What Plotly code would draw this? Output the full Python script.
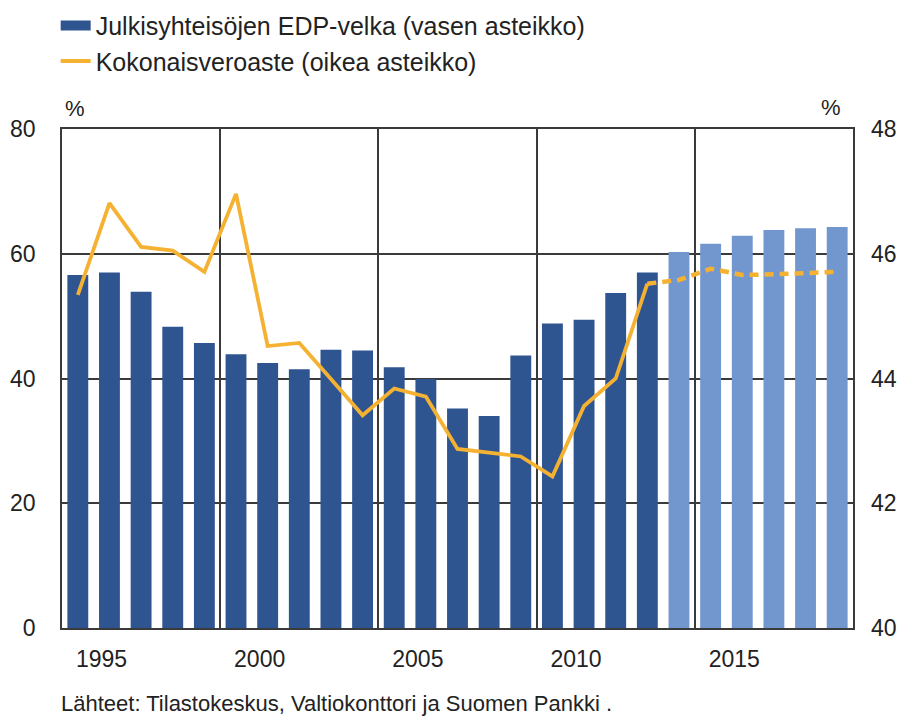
import plotly.graph_objects as go

years = list(range(1994, 2019))
debt = [56.6, 57.0, 53.9, 48.3, 45.7, 43.9, 42.5, 41.5, 44.6, 44.5, 41.8, 39.9, 35.2,
        34.0, 43.7, 48.8, 49.4, 53.7, 57.0, 60.3, 61.6, 62.9, 63.8, 64.1, 64.3]
forecast_start = 2013

tax_years = list(range(1994, 2013))
tax = [45.34, 46.81, 46.11, 46.05, 45.71, 46.96, 44.52, 44.57, 43.99, 43.41, 43.84,
       43.71, 42.87, 42.81, 42.75, 42.43, 43.56, 44.00, 45.52]
tax_fc_years = list(range(2012, 2019))
tax_fc = [45.52, 45.58, 45.76, 45.66, 45.67, 45.69, 45.71]

x_ticks = [1995, 2000, 2005, 2010, 2015]
left_ticks = [0, 20, 40, 60, 80]
right_ticks = [40, 42, 44, 46, 48]

DARK = "#2f5591"
LIGHT = "#7297cf"
ORANGE = "#f5b232"
FONT = "Liberation Sans, Arial, sans-serif"
TXT = "#222222"
GRID = "#3a3a3a"

bar_colors = [DARK if y < forecast_start else LIGHT for y in years]

fig = go.Figure()
fig.add_trace(go.Bar(
    x=years, y=debt, name="Julkisyhteisöjen EDP-velka (vasen asteikko)",
    marker=dict(color=bar_colors, line=dict(width=0)), width=0.66,
    yaxis="y", showlegend=False))
# legend swatch for the bars (wide rectangle as in the original)
fig.add_trace(go.Scatter(
    x=[None], y=[None], name="Julkisyhteisöjen EDP-velka (vasen asteikko)",
    mode="lines", line=dict(color=DARK, width=13), yaxis="y"))
fig.add_trace(go.Scatter(
    x=tax_years, y=tax, name="Kokonaisveroaste (oikea asteikko)", mode="lines",
    line=dict(color=ORANGE, width=3.8), yaxis="y2"))
fig.add_trace(go.Scatter(
    x=tax_fc_years, y=tax_fc, showlegend=False, mode="lines",
    line=dict(color=ORANGE, width=4.5, dash="9px,6px"), yaxis="y2"))

fig.update_layout(
    width=898, height=710,
    margin=dict(l=54, r=53, t=121, b=90, autoexpand=False),
    paper_bgcolor="white", plot_bgcolor="white",
    font=dict(family=FONT, size=23, color=TXT),
    showlegend=True,
    legend=dict(x=-0.008, y=1.253, xanchor="left", yanchor="top",
                font=dict(size=25, color=TXT),
                tracegroupgap=0, itemwidth=30, bgcolor="rgba(0,0,0,0)"),
    xaxis=dict(range=[1993.5, 2018.5], tickvals=x_ticks, ticktext=[str(v) for v in x_ticks],
               showgrid=False, zeroline=False, showline=True, mirror=True,
               linecolor=GRID, linewidth=1.5, ticks="", ticklabelstandoff=10,
               ticklabelshift=-8, tickangle=0,
               minor=dict(tickvals=[1998.5, 2003.5, 2008.5, 2013.5], showgrid=True,
                          gridcolor=GRID, gridwidth=1.5)),
    yaxis=dict(range=[0, 80], tickvals=left_ticks, showgrid=True, gridcolor=GRID,
               gridwidth=1.5, zeroline=False, showline=True, mirror=True,
               linecolor=GRID, linewidth=1.5, ticks="", ticklabelstandoff=20),
    yaxis2=dict(range=[40, 48], tickvals=right_ticks, overlaying="y", side="right",
                showgrid=False, zeroline=False, showline=False, ticks="",
                ticklabelstandoff=17),
    bargap=0.34,
)

fig.add_annotation(text="%", xref="paper", yref="paper", x=0.017, y=1.0,
                   xanchor="center", yanchor="bottom", yshift=6, showarrow=False,
                   font=dict(size=22, color=TXT))
fig.add_annotation(text="%", xref="paper", yref="paper", x=0.972, y=1.0,
                   xanchor="center", yanchor="bottom", yshift=7, showarrow=False,
                   font=dict(size=22, color=TXT))
fig.add_annotation(text="Lähteet: Tilastokeskus, Valtiokonttori ja Suomen Pankki .",
                   xref="paper", yref="paper", x=-0.004, y=-0.152,
                   xanchor="left", yanchor="middle", showarrow=False,
                   font=dict(size=22, color=TXT))

fig.write_html("out.html")
